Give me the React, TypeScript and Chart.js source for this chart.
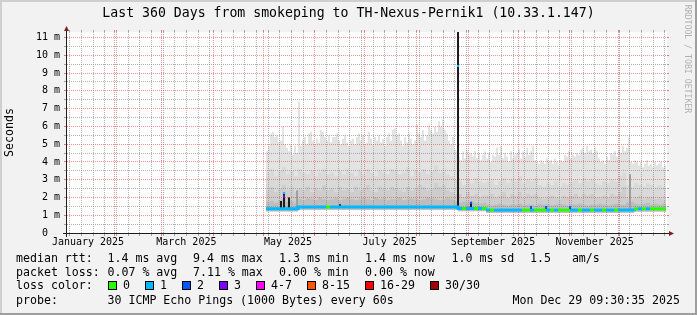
import React, { useEffect, useRef } from "react";
import { Chart, registerables } from "chart.js";

Chart.register(...registerables);

const MONO = "'DejaVu Sans Mono', monospace";
Chart.defaults.font.family = MONO;

// ---------- texts ----------
const TITLE = "Last 360 Days from smokeping to TH-Nexus-Pernik1 (10.33.1.147)";
const Y_TITLE = "Seconds";
const WATERMARK = "RRDTOOL / TOBI OETIKER";
const medianLabel = "median rtt:";
const medianStats = ["1.4 ms avg", "9.4 ms max", "1.3 ms min", "1.4 ms now", "1.0 ms sd", "1.5   am/s"];
const lossLabel = "packet loss:";
const lossStats = ["0.07 % avg", "7.11 % max", "0.00 % min", "0.00 % now"];
const lossColorLabel = "loss color:";
const lossClasses = ["0", "1", "2", "3", "4-7", "8-15", "16-29", "30/30"];
const lossColors = ["#26ff00", "#00b8ff", "#0059ff", "#7e00ff", "#ff00ff", "#ff5500", "#ff0000", "#a10000"];
const probeLabel = "probe:";
const probeText = "30 ICMP Echo Pings (1000 Bytes) every 60s";
const stampText = "Mon Dec 29 09:30:35 2025";

// ---------- time axis (days since 2025-01-01 00:00) ----------
const rangeStartDay = 2.396;
const rangeEndDay = 362.396;
const monthStartDays = [31, 59, 90, 120, 151, 181, 212, 243, 273, 304, 334];
const firstSundayDay = 4;
const monthLabels = ["January 2025", "March 2025", "May 2025", "July 2025", "September 2025", "November 2025"];
const monthLabelDays = [15, 74, 135, 196, 258, 319];

// ---------- value axis (ms) ----------
const yMax = 11.31;

// ---------- samples ----------
const dataStartDay = 121.8;
const fineStepDays = 1.2;
const coarseStepDays = 2.4;

// top of the smoke (max ping), fine samples
const smokeMax = [
  4.6, 4.9, 5.6, 5.7, 5.4, 5.5, 5.1, 5.2, 6.0, 5.0,
  4.8, 4.6, 5.0, 4.4, 4.9, 4.5, 7.4, 4.9, 5.2, 5.4,
  5.0, 5.6, 5.7, 5.2, 5.0, 5.3, 5.1, 5.8, 5.7, 5.4,
  5.2, 5.5, 5.1, 5.4, 5.4, 5.6, 5.2, 5.0, 5.3, 5.5,
  5.1, 4.9, 5.2, 5.3, 5.0, 5.4, 5.6, 5.2, 5.5, 5.0,
  5.1, 5.7, 5.3, 5.0, 5.4, 5.2, 5.5, 5.1, 5.3, 4.9,
  5.4, 5.6, 5.2, 5.8, 5.9, 5.5, 5.6, 5.2, 4.9, 5.4,
  5.1, 5.6, 5.3, 5.0, 5.2, 6.1, 5.6, 5.4, 5.8, 5.2,
  5.5, 6.1, 5.8, 5.6, 6.0, 5.7, 6.3, 6.0, 6.4, 5.8,
  5.6, 5.2, 5.0, 5.4, 4.7, 4.6,
  4.3, 4.1, 4.6, 4.2, 4.7, 4.4, 4.5, 4.3, 4.6, 4.2,
  4.5, 4.1, 4.4, 4.6, 4.2, 4.5, 4.0, 4.4, 4.3, 4.8,
  4.4, 4.9, 4.2, 4.5, 4.3, 4.0, 4.6, 4.2, 4.4, 4.5,
  4.7, 4.2, 4.6, 4.3, 4.8, 4.4, 4.6, 4.9, 4.1, 4.0,
  3.9, 4.1, 4.0, 3.9, 4.2, 4.0, 4.1, 3.9, 4.2, 4.0,
  3.8, 4.1, 4.0, 4.4, 4.3, 4.6, 4.2, 4.4, 4.3, 4.5,
  4.4, 4.7, 4.8, 4.5, 4.9, 4.6, 4.7, 4.5, 4.8, 4.6,
  4.2, 4.0, 4.1, 3.9, 4.3, 4.1, 4.5, 4.4, 4.6, 4.3,
  4.7, 4.5, 4.9, 4.6, 4.8, 5.4, 4.0, 3.9, 4.1, 4.0,
  3.8, 4.0, 3.7, 3.9, 4.1, 3.8, 3.9, 3.7, 4.0, 3.8,
  3.9, 4.0, 3.7, 3.8,
];

// coarse samples
const smokeUpper = [
  3.4, 3.6, 3.2, 3.5, 3.7, 3.3, 3.5, 3.2, 3.6, 3.4, 3.3, 3.5, 3.2, 3.4, 3.6, 3.3,
  3.4, 3.2, 3.5, 3.3, 3.6, 3.4, 3.2, 3.5, 3.3, 3.6, 3.4, 3.2, 3.5, 3.4, 3.3, 3.6,
  3.5, 3.3, 3.4, 3.7, 3.2, 3.5, 3.4, 3.6, 3.3, 3.5, 3.8, 3.4, 3.6, 3.3, 3.2, 3.0,
  2.9, 2.7, 3.0, 2.8, 3.1, 2.9, 2.8, 2.9, 3.0, 2.7, 2.9, 3.1, 2.8, 3.0,
  2.9, 3.2, 2.8, 3.0, 2.9, 3.1, 2.7, 2.6, 2.8, 2.7, 2.9, 2.6, 2.8, 2.7,
  2.9, 3.0, 2.8, 3.1, 2.9, 3.0, 2.8, 2.7, 2.9, 2.8, 3.0, 2.9, 3.2, 3.4,
  2.7, 2.6, 2.8, 2.7, 2.6, 2.8, 2.7, 2.6, 2.7, 2.6,
];
const smokeInner = [
  2.4, 2.6, 2.3, 2.5, 2.7, 2.4, 2.6, 2.3, 2.5, 2.4, 2.6, 2.3, 2.5, 2.4, 2.7, 2.4,
  2.5, 2.3, 2.6, 2.4, 2.5, 2.3, 2.6, 2.4, 2.5, 2.7, 2.4, 2.3, 2.6, 2.5, 2.4, 2.6,
  2.5, 2.4, 2.3, 2.6, 2.4, 2.5, 2.7, 2.6, 2.4, 2.5, 2.8, 2.6, 2.7, 2.4, 2.3, 2.2,
  2.2, 2.0, 2.3, 2.1, 2.2, 2.0, 2.1, 2.1, 2.2, 2.0, 2.1, 2.3, 2.0, 2.2,
  2.1, 2.3, 2.0, 2.2, 2.1, 2.2, 2.0, 1.9, 2.0, 2.1, 2.0, 1.9, 2.1, 2.0,
  2.1, 2.2, 2.0, 2.2, 2.1, 2.2, 2.0, 2.0, 2.1, 2.0, 2.2, 2.1, 2.3, 2.6,
  2.0, 1.9, 2.0, 2.1, 1.9, 2.0, 2.0, 1.9, 2.0, 1.9,
];
const smokeCore = [
  1.75, 1.8, 1.7, 1.85, 1.9, 1.75, 1.8, 1.7,
  1.9, 1.85, 1.95, 1.9, 1.85, 2.0, 1.9, 1.85, 1.9, 1.95,
  1.85, 1.9, 2.0, 1.9, 1.85, 1.9, 1.95, 1.9, 1.85, 2.0,
  1.9, 1.95, 1.85, 1.9, 1.9, 2.0, 1.85, 1.9, 1.95, 1.9,
  1.85, 1.9, 2.0, 1.95, 1.9, 1.85, 1.9, 1.95, 1.9, 1.8,
  1.7, 1.75, 1.7, 1.75, 1.7, 1.65, 1.7,
  1.6, 1.55, 1.6, 1.65, 1.6, 1.55, 1.6, 1.6, 1.65, 1.55,
  1.6, 1.6, 1.55, 1.65, 1.6, 1.6, 1.55, 1.6, 1.65, 1.6,
  1.55, 1.6, 1.6, 1.65, 1.6, 1.55, 1.6, 1.6, 1.65, 1.6,
  1.55, 1.6, 1.65, 1.6, 1.6, 1.7, 1.75,
  1.65, 1.6, 1.65, 1.7, 1.6, 1.65, 1.6, 1.65,
];
const smokeMin = [
  1.22, 1.22, 1.22, 1.22, 1.22, 1.22, 1.22, 1.22,
  1.31, 1.31, 1.31, 1.31, 1.31, 1.31, 1.31, 1.31, 1.31, 1.31,
  1.31, 1.31, 1.31, 1.31, 1.31, 1.31, 1.31, 1.31, 1.31, 1.31,
  1.31, 1.31, 1.31, 1.31, 1.31, 1.31, 1.31, 1.31, 1.31, 1.31,
  1.31, 1.31, 1.31, 1.31, 1.31, 1.31, 1.31, 1.31, 1.31, 1.31,
  1.23, 1.23, 1.23, 1.23, 1.23, 1.23, 1.23,
  1.14, 1.14, 1.14, 1.14, 1.14, 1.14, 1.14, 1.14, 1.14, 1.14,
  1.14, 1.14, 1.14, 1.14, 1.14, 1.14, 1.14, 1.14, 1.14, 1.14,
  1.14, 1.14, 1.14, 1.14, 1.14, 1.14, 1.14, 1.14, 1.14, 1.14,
  1.14, 1.14, 1.14, 1.14, 1.14, 1.14, 1.14,
  1.21, 1.21, 1.21, 1.21, 1.21, 1.21, 1.21, 1.21,
];
const medianRtt = [
  1.37, 1.37, 1.37, 1.37, 1.37, 1.37, 1.37, 1.37,
  1.46, 1.46, 1.46, 1.46, 1.46, 1.46, 1.46, 1.46, 1.46, 1.46,
  1.46, 1.46, 1.46, 1.46, 1.46, 1.46, 1.46, 1.46, 1.46, 1.46,
  1.46, 1.46, 1.46, 1.46, 1.46, 1.46, 1.46, 1.46, 1.46, 1.46,
  1.46, 1.46, 1.46, 1.46, 1.46, 1.46, 1.46, 1.46, 1.46, 1.46,
  1.38, 1.38, 1.38, 1.38, 1.38, 1.38, 1.38,
  1.29, 1.29, 1.29, 1.29, 1.29, 1.29, 1.29, 1.29, 1.29, 1.29,
  1.29, 1.29, 1.29, 1.29, 1.29, 1.29, 1.29, 1.29, 1.29, 1.29,
  1.29, 1.29, 1.29, 1.29, 1.29, 1.29, 1.29, 1.29, 1.29, 1.29,
  1.29, 1.29, 1.29, 1.29, 1.29, 1.29, 1.29,
  1.36, 1.36, 1.36, 1.36, 1.36, 1.36, 1.36, 1.36,
];
// lost pings (of 30) per coarse sample
const lossCount = [
  1, 1, 1, 1, 1, 1, 1, 1, 1, 1, 1, 1, 1, 1, 1, 0,
  1, 1, 1, 1, 1, 1, 1, 1, 1, 1, 1, 1, 1, 1, 1, 1,
  1, 1, 1, 1, 1, 1, 1, 1, 1, 1, 1, 1, 1, 1, 1, 1,
  1, 0, 1, 1, 0, 1, 0, 1, 0, 1, 1, 1, 1, 1,
  1, 1, 0, 0, 1, 0, 0, 0, 1, 0, 1, 0, 0, 0,
  1, 1, 0, 1, 1, 0, 1, 1, 0, 1, 1, 0, 1, 1,
  1, 1, 0, 1, 0, 1, 0, 0, 0, 0,
];

// dark spikes of the median
const spikeDays = [130.8, 132.6, 135.6, 166.2, 237.0, 244.8, 280.8, 289.8, 304.2];
const spikeLows = [1.37, 1.37, 1.37, 1.46, 1.46, 1.38, 1.29, 1.29, 1.29];
const spikeHighs = [1.8, 2.3, 2.0, 1.62, 11.31, 1.75, 1.5, 1.5, 1.5];
// gray streaks in the smoke
const streakDays = [140.4, 340.2];
const streakLows = [1.37, 1.29];
const streakHighs = [2.4, 3.3];
// median peaks with their loss
const peakDays = [132.6, 132.6, 237.0, 244.8, 280.8, 289.8, 304.2];
const peakValues = [2.25, 2.05, 9.4, 1.7, 1.45, 1.45, 1.45];
const peakLoss = [1, 3, 1, 2, 2, 2, 2];

function lossClassIndex(n: number): number {
  if (n <= 3) return n;
  if (n <= 7) return 4;
  if (n <= 15) return 5;
  if (n <= 29) return 6;
  return 7;
}

const MINOR = "rgba(143,143,143,0.7)";
const MAJOR = "rgba(222,79,79,0.62)";
const MINOR_TICK = "rgba(143,143,143,0.8)";
const MAJOR_TICK = "rgba(222,79,79,0.75)";

function minorYValues(): number[] {
  const out: number[] = [];
  for (let k = 1; k * 0.5 < yMax; k += 2) out.push(k * 0.5);
  return out;
}
function majorYValues(): number[] {
  const out: number[] = [];
  for (let v = 1; v < yMax; v++) out.push(v);
  return out;
}
function minorXDays(): number[] {
  const out: number[] = [];
  for (let d = firstSundayDay; d < rangeEndDay; d += 7) {
    if (d > rangeStartDay && !monthStartDays.includes(d)) out.push(d);
  }
  return out;
}

function drawGrid(chart: any) {
  const { ctx, chartArea: a, scales } = chart;
  const xs = scales.x;
  const ys = scales.y;
  ctx.save();
  ctx.beginPath();
  ctx.rect(a.left, a.top, a.right - a.left, a.bottom - a.top);
  ctx.clip();
  ctx.lineWidth = 1;
  ctx.setLineDash([1, 1]);
  const pass = (color: string, yv: number[], xd: number[]) => {
    ctx.strokeStyle = color;
    ctx.beginPath();
    for (const v of yv) {
      const py = Math.floor(ys.getPixelForValue(v)) + 0.5;
      ctx.moveTo(a.left, py);
      ctx.lineTo(a.right, py);
    }
    for (const d of xd) {
      const px = Math.floor(xs.getPixelForValue(d)) + 0.5;
      ctx.moveTo(px, a.bottom);
      ctx.lineTo(px, a.top);
    }
    ctx.stroke();
  };
  pass(MINOR, minorYValues(), minorXDays());
  pass(MAJOR, majorYValues(), monthStartDays);
  ctx.restore();
}

function drawAxes(chart: any) {
  const { ctx, chartArea: a, scales } = chart;
  const xs = scales.x;
  const ys = scales.y;
  ctx.save();
  ctx.lineWidth = 1;
  const ticks = (color: string, yv: number[], xd: number[]) => {
    ctx.strokeStyle = color;
    ctx.beginPath();
    for (const v of yv) {
      const py = Math.floor(ys.getPixelForValue(v)) + 0.5;
      ctx.moveTo(a.left - 3, py);
      ctx.lineTo(a.left - 1, py);
      ctx.moveTo(a.right, py);
      ctx.lineTo(a.right + 2, py);
    }
    for (const d of xd) {
      const px = Math.floor(xs.getPixelForValue(d)) + 0.5;
      ctx.moveTo(px, a.bottom + 1);
      ctx.lineTo(px, a.bottom + 3);
      ctx.moveTo(px, a.top - 2);
      ctx.lineTo(px, a.top);
    }
    ctx.stroke();
  };
  ticks(MINOR_TICK, minorYValues(), minorXDays());
  ticks(MAJOR_TICK, majorYValues(), monthStartDays);

  const x0 = Math.floor(xs.getPixelForValue(rangeStartDay)) - 0.5;
  const y0 = Math.floor(ys.getPixelForValue(0)) + 0.5;
  ctx.strokeStyle = "#1f1f1f";
  ctx.beginPath();
  ctx.moveTo(a.left - 4, y0);
  ctx.lineTo(a.right + 3, y0);
  ctx.moveTo(x0, a.bottom + 4);
  ctx.lineTo(x0, a.top - 2);
  ctx.stroke();
  ctx.fillStyle = "#801f1f";
  ctx.beginPath();
  ctx.moveTo(a.right + 2, y0 - 2.5);
  ctx.lineTo(a.right + 2, y0 + 2.5);
  ctx.lineTo(a.right + 7, y0);
  ctx.closePath();
  ctx.fill();
  ctx.beginPath();
  ctx.moveTo(x0 - 2.5, a.top - 1);
  ctx.lineTo(x0 + 2.5, a.top - 1);
  ctx.lineTo(x0, a.top - 6);
  ctx.closePath();
  ctx.fill();
  ctx.restore();
}

function drawTexts(chart: any) {
  const { ctx, width } = chart;
  ctx.save();
  ctx.fillStyle = "#000";
  ctx.textBaseline = "middle";
  ctx.textAlign = "center";
  ctx.font = `13.2px ${MONO}`;
  ctx.fillText(TITLE, width / 2, 14);

  ctx.font = `11.6px ${MONO}`;
  ctx.textAlign = "left";
  const labelX = 16;
  const statX = [107.5, 193, 279, 365, 451.5, 530];
  const rowY = [258.5, 272.5, 286, 300.5];
  ctx.fillText(medianLabel, labelX, rowY[0]);
  medianStats.forEach((s, k) => ctx.fillText(s, statX[k], rowY[0]));
  ctx.fillText(lossLabel, labelX, rowY[1]);
  lossStats.forEach((s, k) => ctx.fillText(s, statX[k], rowY[1]));
  ctx.fillText(lossColorLabel, labelX, rowY[2]);
  const swatchX = [108, 145, 182, 219, 256, 307, 365, 430];
  lossClasses.forEach((name, k) => {
    const sx = swatchX[k];
    ctx.fillStyle = lossColors[k];
    ctx.fillRect(sx, 281, 9, 9);
    ctx.strokeStyle = "#000";
    ctx.lineWidth = 1;
    ctx.strokeRect(sx + 0.5, 281.5, 8, 8);
    ctx.fillStyle = "#000";
    ctx.fillText(name, sx + 15, rowY[2]);
  });
  ctx.fillText(probeLabel, labelX, rowY[3]);
  ctx.fillText(probeText, statX[0], rowY[3]);
  ctx.textAlign = "right";
  ctx.fillText(stampText, 680, rowY[3]);

  ctx.translate(687, 59);
  ctx.rotate(Math.PI / 2);
  ctx.textAlign = "center";
  ctx.fillStyle = "#b0b0b0";
  ctx.font = `8.2px ${MONO}`;
  ctx.fillText(WATERMARK, 0, 0);
  ctx.restore();
}

const rrdPlugin = {
  id: "rrdLook",
  beforeDraw(chart: any) {
    const { ctx, width, height, chartArea: a } = chart;
    ctx.save();
    ctx.fillStyle = "#f2f2f2";
    ctx.fillRect(0, 0, width, height);
    ctx.fillStyle = "#ffffff";
    ctx.fillRect(a.left, a.top, a.right - a.left, a.bottom - a.top);
    ctx.fillStyle = "#cfcfcf";
    ctx.fillRect(0, 0, width, 2);
    ctx.fillRect(0, 0, 2, height);
    ctx.fillStyle = "#9e9e9e";
    ctx.fillRect(0, height - 2, width, 2);
    ctx.fillRect(width - 2, 0, 2, height);
    ctx.restore();
  },
  afterDatasetDraw(chart: any, args: any) {
    if (chart.data.datasets[args.index].label === "streaks") drawGrid(chart);
  },
  afterDatasetsDraw(chart: any) {
    drawAxes(chart);
  },
  afterDraw(chart: any) {
    drawTexts(chart);
  },
};

const fineX = (i: number) => dataStartDay + (i + 0.5) * fineStepDays;
const coarseX = (j: number) => dataStartDay + (j + 0.5) * coarseStepDays;
const coarseEdge = (j: number) => dataStartDay + j * coarseStepDays;

function coarseBars(label: string, tops: number[], color: string, order: number) {
  return {
    type: "bar" as const,
    label,
    order,
    data: tops.map((v, j) => ({ x: coarseX(j), y: [smokeMin[j], v] })),
    backgroundColor: color,
    borderWidth: 0,
    barThickness: 4,
    grouped: false,
    inflateAmount: 0,
  };
}

export default function App() {
  const ref = useRef<HTMLCanvasElement>(null);
  useEffect(() => {
    if (!ref.current) return;
    const medianData = medianRtt.map((v, j) => ({ x: coarseEdge(j), y: v }));
    medianData.push({ x: coarseEdge(medianRtt.length), y: medianRtt[medianRtt.length - 1] });
    const chart = new Chart(ref.current, {
      type: "bar",
      data: {
        datasets: [
          {
            type: "scatter",
            label: "peaks",
            order: 0,
            data: peakDays.map((d, k) => ({ x: d, y: peakValues[k] })),
            pointStyle: "rect",
            pointRadius: 1.5,
            pointBorderWidth: 0,
            pointBackgroundColor: (c: any) => lossColors[lossClassIndex(peakLoss[c.dataIndex] ?? 0)],
          } as any,
          {
            type: "line",
            label: "median",
            order: 1,
            data: medianData,
            stepped: "before",
            borderWidth: 3,
            borderColor: lossColors[1],
            borderCapStyle: "butt",
            borderJoinStyle: "miter",
            pointRadius: 0,
            fill: false,
            segment: {
              borderColor: (c: any) => lossColors[lossClassIndex(lossCount[c.p0DataIndex] ?? 0)],
            },
          } as any,
          {
            type: "bar",
            label: "spikes",
            order: 2,
            data: spikeDays.map((d, k) => ({ x: d, y: [spikeLows[k], spikeHighs[k]] })),
            backgroundColor: "#1c1c1c",
            borderWidth: 0,
            barThickness: 2,
            grouped: false,
            inflateAmount: 0,
          } as any,
          {
            type: "bar",
            label: "streaks",
            order: 3,
            data: streakDays.map((d, k) => ({ x: d, y: [streakLows[k], streakHighs[k]] })),
            backgroundColor: "#a0a0a0",
            borderWidth: 0,
            barThickness: 2,
            grouped: false,
            inflateAmount: 0,
          } as any,
          coarseBars("smokeCore", smokeCore, "#bdbdbd", 4) as any,
          coarseBars("smokeInner", smokeInner, "#cdcdcd", 5) as any,
          coarseBars("smokeUpper", smokeUpper, "#d9d9d9", 6) as any,
          {
            type: "bar",
            label: "smokeMax",
            order: 7,
            data: smokeMax.map((v, i) => ({ x: fineX(i), y: [smokeMin[Math.floor(i / 2)], v] })),
            backgroundColor: "#e3e3e3",
            borderWidth: 0,
            barThickness: 2,
            grouped: false,
            inflateAmount: 0,
          } as any,
        ],
      },
      options: {
        responsive: false,
        maintainAspectRatio: false,
        animation: false,
        devicePixelRatio: 1,
        events: [],
        layout: { padding: { left: 0, right: 30, top: 32, bottom: 0 } },
        plugins: {
          legend: { display: false },
          tooltip: { enabled: false },
          title: { display: false },
        },
        scales: {
          x: {
            type: "linear",
            min: rangeStartDay,
            max: rangeEndDay,
            offset: false,
            grid: { display: false, drawTicks: false },
            border: { display: false },
            afterBuildTicks: (s: any) => {
              s.ticks = monthLabelDays.map((v) => ({ value: v }));
            },
            afterFit: (s: any) => {
              s.height = 82;
            },
            ticks: {
              autoSkip: false,
              maxRotation: 0,
              minRotation: 0,
              padding: 3.7,
              color: "#000",
              font: { family: MONO, size: 10 },
              callback: (_v: any, index: number) => monthLabels[index] ?? "",
            },
          },
          y: {
            type: "linear",
            min: 0,
            max: yMax,
            grid: { display: false, drawTicks: false },
            border: { display: false },
            afterFit: (s: any) => {
              s.width = 67;
            },
            title: {
              display: true,
              text: Y_TITLE,
              color: "#000",
              font: { family: MONO, size: 11.6 },
              padding: { top: 3.5, bottom: 0 },
            },
            ticks: {
              stepSize: 1,
              includeBounds: false,
              padding: 7,
              color: "#000",
              font: { family: MONO, size: 10 },
              callback: (v: any) => (Number(v) === 0 ? "0  " : `${v} m`),
            },
          },
        },
      },
      plugins: [rrdPlugin],
    } as any);
    return () => chart.destroy();
  }, []);

  return (
    <div style={{ position: "absolute", left: 0, top: 0, width: 697, height: 315 }}>
      <canvas ref={ref} width={697} height={315} style={{ display: "block", width: 697, height: 315 }} />
    </div>
  );
}
